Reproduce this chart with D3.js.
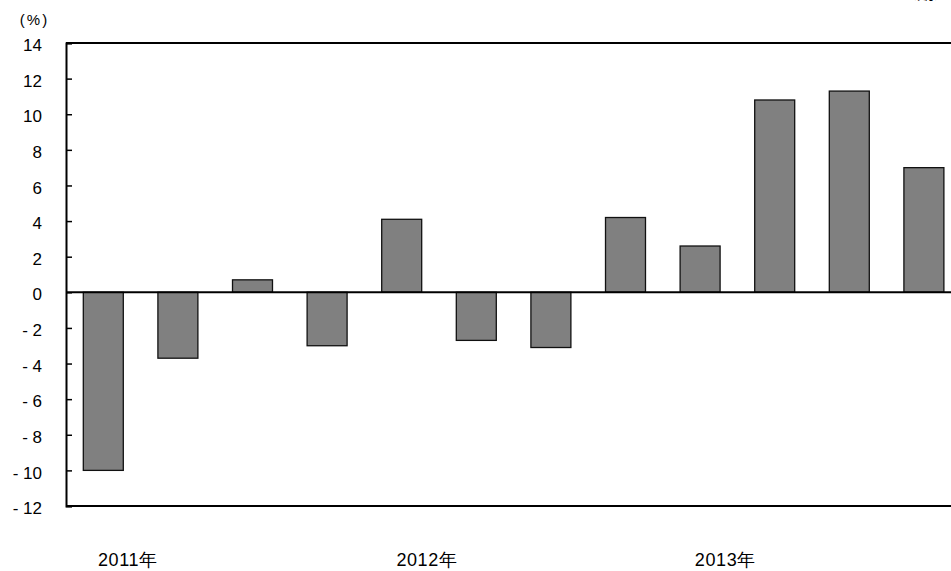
<!DOCTYPE html>
<html>
<head>
<meta charset="utf-8">
<script src="https://cdn.jsdelivr.net/npm/d3@7"></script>
<style>
  html, body { margin: 0; padding: 0; background: #fff; }
  svg { display: block; font-family: "Liberation Sans", Arial, sans-serif; }
</style>
</head>
<body>
<svg id="chart" width="951" height="571"></svg>
<script>
// Quarterly change, 2011 Q1 – 2013 Q4 (%)
const categories = ["2011Q1","2011Q2","2011Q3","2011Q4","2012Q1","2012Q2","2012Q3","2012Q4","2013Q1","2013Q2","2013Q3","2013Q4"];
const values = [-10.0, -3.7, 0.7, -3.0, 4.1, -2.7, -3.1, 4.2, 2.6, 10.8, 11.3, 7.0];
const yTicks = [-12, -10, -8, -6, -4, -2, 0, 2, 4, 6, 8, 10, 12, 14];
const yearLabels = [
  { at: "2011Q1", text: "2011年" },
  { at: "2012Q1", text: "2012年" },
  { at: "2013Q1", text: "2013年" }
];
const unitLabel = "(%)";
const periodLabel = "（期）";

(function () {
  const svg = d3.select("#chart");
  const plotLeft = 66, plotTop = 43, plotBottom = 506;
  const step = 74.6;
  const plotRight = plotLeft + step * categories.length;

  const x = d3.scaleBand().domain(categories).range([plotLeft, plotRight]).paddingInner(0.464).paddingOuter(0.232);
  const y = d3.scaleLinear().domain([-12, 14]).range([plotBottom, plotTop]);

  // bars
  svg.append("g").selectAll("rect").data(values).join("rect")
    .attr("x", (d, i) => x(categories[i]))
    .attr("width", x.bandwidth())
    .attr("y", d => y(Math.max(0, d)))
    .attr("height", d => Math.abs(y(d) - y(0)))
    .attr("fill", "#808080")
    .attr("stroke", "#111")
    .attr("stroke-width", 1.3);

  // zero line
  svg.append("line")
    .attr("x1", plotLeft).attr("x2", plotRight)
    .attr("y1", y(0)).attr("y2", y(0))
    .attr("stroke", "#000").attr("stroke-width", 2);

  // frame: top and bottom lines
  svg.append("line").attr("x1", plotLeft).attr("x2", plotRight).attr("y1", plotTop).attr("y2", plotTop)
    .attr("stroke", "#000").attr("stroke-width", 2);
  svg.append("line").attr("x1", plotLeft).attr("x2", plotRight).attr("y1", plotBottom).attr("y2", plotBottom)
    .attr("stroke", "#000").attr("stroke-width", 2);

  // y axis with inward ticks
  const yAxis = d3.axisLeft(y)
    .tickValues(yTicks)
    .tickSize(-6)
    .tickPadding(30)
    .tickFormat(d => d < 0 ? "- " + Math.abs(d) : String(d));
  const gy = svg.append("g").attr("transform", `translate(${plotLeft},0)`).call(yAxis);
  gy.select(".domain").attr("stroke", "#000").attr("stroke-width", 2);
  gy.selectAll(".tick line").attr("stroke", "#000").attr("stroke-width", 1.5);
  gy.selectAll(".tick text")
    .attr("x", 42 - plotLeft)
    .attr("dy", "0.45em")
    .attr("fill", "#000")
    .style("font-size", "17px")
    .style("font-family", "'Liberation Sans', Arial, sans-serif");

  // year labels
  svg.append("g").selectAll("text").data(yearLabels).join("text")
    .attr("x", d => x(d.at) - x.step() * 0.232 + 32)
    .attr("y", 566)
    .attr("fill", "#000")
    .style("font-size", "18px")
    .style("letter-spacing", "0.6px")
    .text(d => d.text);

  // unit label
  svg.append("text")
    .attr("x", 34.5).attr("y", 25)
    .attr("text-anchor", "middle")
    .attr("fill", "#000")
    .style("font-size", "15px")
    .style("letter-spacing", "2px")
    .text(unitLabel);

  // period label at the top-right corner
  svg.append("text")
    .attr("x", 951).attr("y", -1)
    .attr("text-anchor", "end")
    .attr("fill", "#000")
    .style("font-size", "17px")
    .style("font-family", "'Noto Sans CJK JP', sans-serif")
    .text(periodLabel);
})();
</script>
</body>
</html>
